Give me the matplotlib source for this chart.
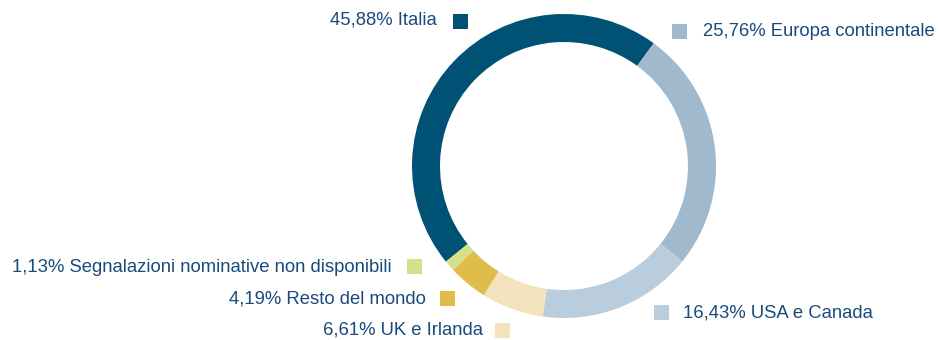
import matplotlib
matplotlib.use("Agg")
import matplotlib.pyplot as plt
from matplotlib.patches import Rectangle

# Distribution by geographic area (percent)
categories = ["Italia", "Europa continentale", "USA e Canada", "UK e Irlanda",
              "Resto del mondo", "Segnalazioni nominative non disponibili"]
values = [45.88, 25.76, 16.43, 6.61, 4.19, 1.13]
value_labels = ["45,88%", "25,76%", "16,43%", "6,61%", "4,19%", "1,13%"]
colors = ["#005274", "#a0b9cd", "#bacddd", "#f3e3bd", "#e0bd4b", "#d4e08a"]

W, H = 939, 340
fig = plt.figure(figsize=(W / 100, H / 100), dpi=100)
ax = fig.add_axes([0, 0, 1, 1])

cx, cy, r = 564, H - 166, 152
ax.pie(values, colors=colors, startangle=219, counterclock=False,
       center=(cx, cy), radius=r,
       wedgeprops=dict(width=28, linewidth=0))
ax.set_xlim(0, W)
ax.set_ylim(0, H)
ax.set_aspect("auto")
ax.axis("off")

text_color = "#1a4a7c"
fs = 13.3
sq = 15

# (text anchor x, text center y, alignment, square left x, square top y) in pixels
placement = {
    "Italia": (437, 20, "right", 453, 14),
    "Europa continentale": (703, 31, "left", 672, 24),
    "USA e Canada": (683, 313, "left", 654, 305),
    "UK e Irlanda": (483, 330, "right", 495, 323),
    "Resto del mondo": (426, 299, "right", 440, 291),
    "Segnalazioni nominative non disponibili": (392, 267, "right", 407, 259),
}

for cat, lab, col in zip(categories, value_labels, colors):
    tx, ty, ha, sx, sy = placement[cat]
    ax.text(tx, H - ty, f"{lab} {cat}", ha=ha, va="center", fontsize=fs,
            color=text_color, family=["Liberation Sans", "DejaVu Sans"])
    ax.add_patch(Rectangle((sx, H - sy - sq), sq, sq, facecolor=col,
                           edgecolor="none"))

fig.savefig("out.png", dpi=100)
